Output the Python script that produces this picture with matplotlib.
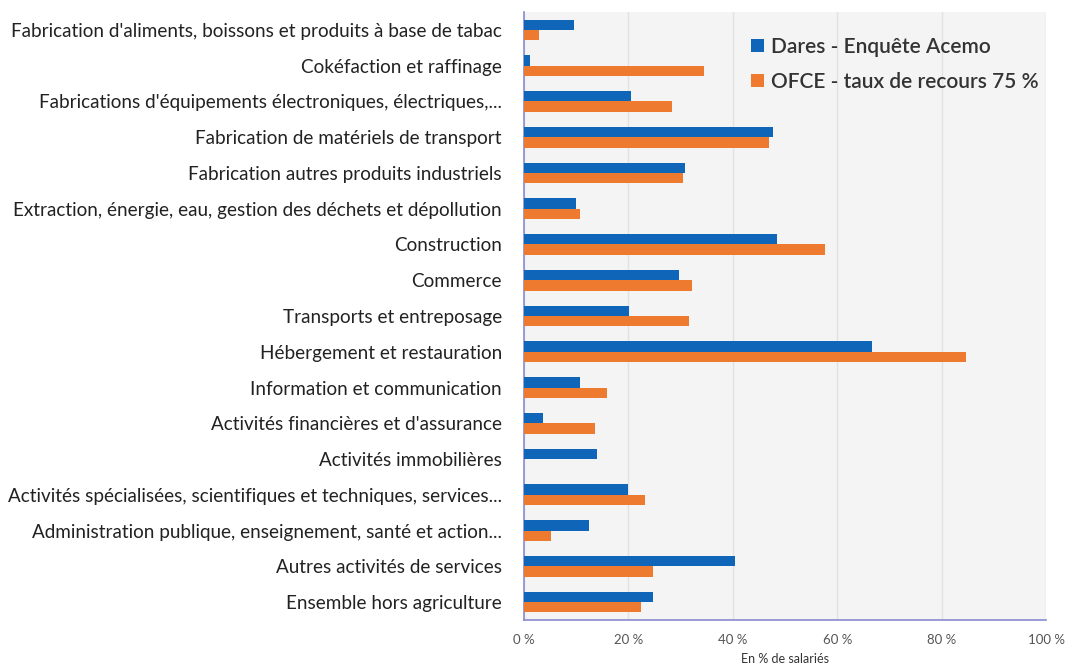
import matplotlib
matplotlib.use("Agg")
import matplotlib.pyplot as plt
import numpy as np

plt.rcParams['font.family'] = ['Lato', 'DejaVu Sans']

categories = [
    "Fabrication d'aliments, boissons et produits à base de tabac",
    "Cokéfaction et raffinage",
    "Fabrications d'équipements électroniques, électriques,...",
    "Fabrication de matériels de transport",
    "Fabrication autres produits industriels",
    "Extraction, énergie, eau, gestion des déchets et dépollution",
    "Construction",
    "Commerce",
    "Transports et entreposage",
    "Hébergement et restauration",
    "Information et communication",
    "Activités financières et d'assurance",
    "Activités immobilières",
    "Activités spécialisées, scientifiques et techniques, services...",
    "Administration publique, enseignement, santé et action...",
    "Autres activités de services",
    "Ensemble hors agriculture",
]
dares = [9.6, 1.1, 20.5, 47.7, 30.9, 9.9, 48.5, 29.6, 20.2, 66.7, 10.8, 3.7, 14.0, 19.9, 12.5, 40.4, 24.8]
ofce = [2.9, 34.4, 28.3, 47.0, 30.5, 10.8, 57.6, 32.1, 31.6, 84.7, 15.9, 13.6, 0.0, 23.2, 5.1, 24.8, 22.5]
series_names = ["Dares - Enquête Acemo", "OFCE - taux de recours 75 %"]
xticks = [0, 20, 40, 60, 80, 100]
xticklabels = ["0 %", "20 %", "40 %", "60 %", "80 %", "100 %"]

blue = "#0F66B8"
orange = "#EE7A30"

fig = plt.figure(figsize=(10.68, 6.70), dpi=100)
ax = fig.add_axes([524/1068, 1 - 620/670, (1046-524)/1068, (620-12)/670])
ax.set_facecolor("#F4F4F4")

y = np.arange(len(categories))
h = 0.29
ax.barh(y - h/2, dares, height=h, color=blue, label=series_names[0], zorder=3)
ax.barh(y + h/2, ofce, height=h, color=orange, label=series_names[1], zorder=3)

ax.set_ylim(len(categories) - 0.5, -0.5)
ax.set_xlim(0, 100)
ax.set_yticks(y)
ax.set_yticklabels(categories, fontsize=13.6, color="#222222")
ax.set_xticks(xticks)
ax.set_xticklabels(xticklabels, fontsize=9.5, color="#555555")
ax.tick_params(axis='x', length=0, pad=10)
ax.tick_params(axis='y', length=0, pad=16)
ax.grid(axis='x', color="#E2E2E2", linewidth=1, zorder=0)
for s in ['top', 'right']:
    ax.spines[s].set_visible(False)
for s in ['left', 'bottom']:
    ax.spines[s].set_color("#8A8ACF")
    ax.spines[s].set_linewidth(1.2)
ax.set_xlabel("En % de salariés", fontsize=9, color="#333333", labelpad=5)

leg = ax.legend(loc='upper right', bbox_to_anchor=(1.022, 0.99), frameon=False,
                fontsize=15, handlelength=0.6, handleheight=0.6, handletextpad=0.35,
                labelspacing=0.72)
for t in leg.get_texts():
    t.set_color("#333333")
    t.set_fontweight('semibold')

fig.savefig("out.png", dpi=100)
